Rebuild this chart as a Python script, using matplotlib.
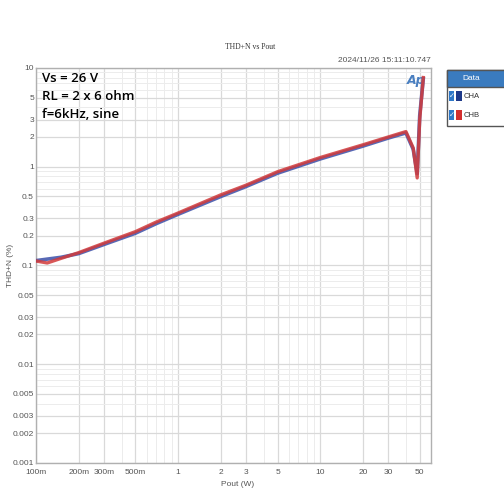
import numpy as np
import matplotlib
matplotlib.use('Agg')
import matplotlib.pyplot as plt
from matplotlib.patches import Rectangle
from matplotlib.ticker import FixedLocator, FixedFormatter, NullFormatter

# THD+N vs output power
pout_a = [0.1, 0.12, 0.15, 0.2, 0.3, 0.5, 0.7, 1, 2, 3, 5, 10, 20, 30, 40, 45, 48, 50, 53]
thd_a = [0.112, 0.116, 0.121, 0.132, 0.163, 0.212, 0.265, 0.33, 0.5, 0.63, 0.86, 1.2, 1.62, 1.95, 2.2, 1.5, 0.85, 3.3, 7.8]
pout_b = [0.1, 0.12, 0.15, 0.2, 0.3, 0.5, 0.7, 1, 2, 3, 5, 10, 20, 30, 40, 45, 48, 50, 53]
thd_b = [0.111, 0.106, 0.118, 0.135, 0.168, 0.22, 0.275, 0.34, 0.52, 0.65, 0.89, 1.24, 1.67, 2.0, 2.27, 1.55, 0.77, 3.0, 8.0]

yticks = [10, 5, 3, 2, 1, 0.5, 0.3, 0.2, 0.1, 0.05, 0.03, 0.02, 0.01, 0.005, 0.003, 0.002, 0.001]
ylabels = ['10', '5', '3', '2', '1', '0.5', '0.3', '0.2', '0.1', '0.05', '0.03', '0.02', '0.01',
           '0.005', '0.003', '0.002', '0.001']
xticks = [0.1, 0.2, 0.3, 0.5, 1, 2, 3, 5, 10, 20, 30, 50]
xlabels = ['100m', '200m', '300m', '500m', '1', '2', '3', '5', '10', '20', '30', '50']

tfont = 'Liberation Sans'

fig = plt.figure(figsize=(5.04, 4.94), dpi=100)
ax = fig.add_axes([0.0714, 0.0628, 0.7837, 0.7996])
ax.set_xscale('log')
ax.set_yscale('log')
ax.set_xlim(0.1, 60)
ax.set_ylim(0.001, 10)

ax.plot(pout_a, thd_a, color='#3b4fa8', lw=2.6, alpha=0.85, zorder=3)
ax.plot(pout_b, thd_b, color='#d23a3a', lw=2.4, alpha=0.85, zorder=4)

ax.yaxis.set_major_locator(FixedLocator(yticks))
ax.yaxis.set_major_formatter(FixedFormatter(ylabels))
ax.xaxis.set_major_locator(FixedLocator(xticks))
ax.xaxis.set_major_formatter(FixedFormatter(xlabels))
ymin = [v * m for v in [0.001, 0.01, 0.1, 1] for m in [4, 6, 7, 8, 9]]
xmin = [v * m for v in [0.1, 1, 10] for m in [4, 6, 7, 8, 9]]
ax.yaxis.set_minor_locator(FixedLocator(ymin))
ax.xaxis.set_minor_locator(FixedLocator(xmin))
ax.yaxis.set_minor_formatter(NullFormatter())
ax.xaxis.set_minor_formatter(NullFormatter())

ax.grid(True, which='major', color='#d9d9d9', lw=0.9)
ax.grid(True, which='minor', color='#ececec', lw=0.7)
ax.tick_params(which='both', length=0, labelsize=6, labelcolor='#555555')
ax.tick_params(axis='y', pad=1.5)
ax.tick_params(axis='x', pad=4)
for lab in ax.get_xticklabels() + ax.get_yticklabels():
    lab.set_family(tfont)
for s in ax.spines.values():
    s.set_color('#b0b0b0')
    s.set_linewidth(1.0)

ax.set_ylabel('THD+N (%)', fontsize=6, color='#555555', family=tfont)
ax.yaxis.set_label_coords(-0.055, 0.5)
ax.set_xlabel('Pout (W)', fontsize=6, color='#555555', family=tfont)
ax.xaxis.set_label_coords(0.51, -0.045)

ax.text(0.015, 0.99, 'Vs = 26 V\nRL = 2 x 6 ohm\nf=6kHz, sine', transform=ax.transAxes,
        ha='left', va='top', fontsize=9.5, linespacing=1.5, color='black',
        family='Open Sans', fontweight='semibold')
ax.text(0.985, 0.985, 'Ap', transform=ax.transAxes, ha='right', va='top',
        fontsize=9, color='#4a7fc0', style='italic', fontweight='bold')

fig.text(0.497, 0.905, 'THD+N vs Pout', ha='center', va='center', fontsize=5.5,
         family='Liberation Serif', color='#333333')
fig.text(0.855, 0.878, '2024/11/26 15:11:10.747', ha='right', va='center', fontsize=6,
         family=tfont, color='#555555')

# legend panel at the right edge
W, H = 504.0, 494.0
def fr(x, y, w, h, **kw):
    fig.add_artist(Rectangle((x / W, 1 - (y + h) / H), w / W, h / H,
                             transform=fig.transFigure, **kw))
fr(447, 70, 62, 56, facecolor='white', edgecolor='#555555', lw=1.0)
fr(447, 70, 62, 17, facecolor='#3a7bbf', edgecolor='#555555', lw=1.0)
fig.text(471 / W, 1 - 79 / H, 'Data', ha='center', va='center', fontsize=6,
         family=tfont, color='white')
for i, (name, col) in enumerate([('CHA', '#1f3a8a'), ('CHB', '#d32f2f')]):
    yc = 96 + i * 19
    fr(449, yc - 5, 5, 10, facecolor='#2f78c8', edgecolor='none')
    fig.text(451.5 / W, 1 - yc / H, '\u2713', ha='center', va='center', fontsize=5, color='white')
    fr(456, yc - 5, 6, 10, facecolor=col, edgecolor='none')
    fig.text(464 / W, 1 - yc / H, name, ha='left', va='center', fontsize=5.5,
             family=tfont, color='#333333')

fig.savefig('out.png', dpi=100, facecolor='white')
